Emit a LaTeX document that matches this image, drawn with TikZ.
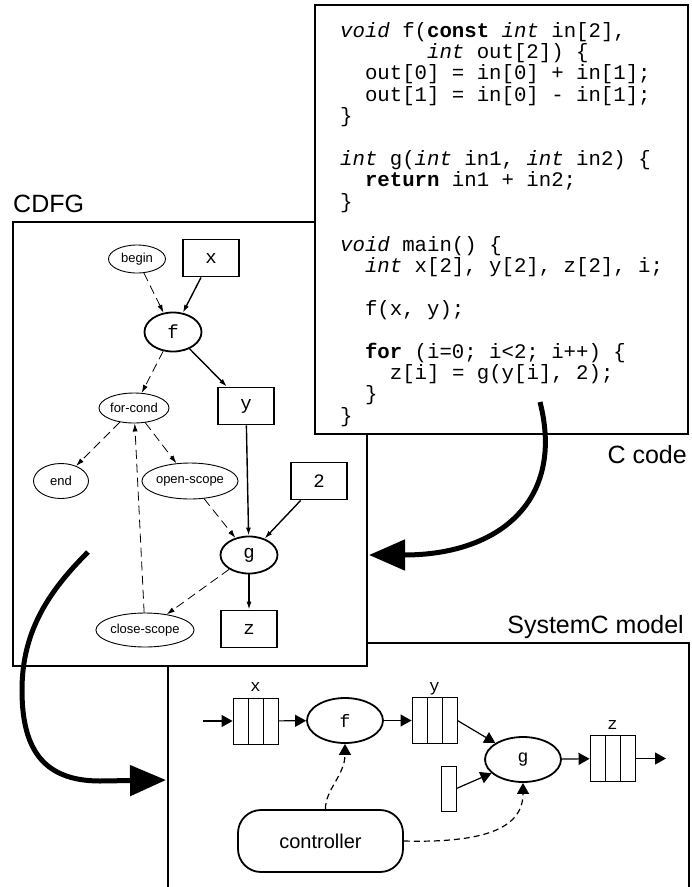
\documentclass[tikz,border=0pt]{standalone}
\usepackage{fontspec}
\setmainfont{Liberation Sans}
\newfontfamily\monofont{Liberation Mono}
\usetikzlibrary{arrows.meta,shapes.geometric}
\tikzset{
  bigbox/.style={draw, line width=2pt, fill=white},
  biglabel/.style={font=\fontsize{25}{25}\selectfont, inner sep=0pt},
  codeline/.style={anchor=base west, inner sep=0pt, font=\monofont\fontsize{20.7}{21.4}\selectfont},
  databox/.style={draw, line width=1.8pt, minimum width=56pt, minimum height=37pt, inner sep=0pt, font=\monofont\fontsize{19}{19}\selectfont},
  opnode/.style={draw, ellipse, line width=1.8pt, minimum width=57pt, minimum height=39pt, inner sep=0pt, font=\monofont\fontsize{19}{19}\selectfont},
  ctlnode/.style={draw, ellipse, line width=0.9pt, inner sep=0pt, font=\fontsize{13}{13}\selectfont},
  dataedge/.style={line width=1.4pt, -{Latex[length=8pt,width=5pt]}},
  ctledge/.style={line width=0.8pt, dash pattern=on 9pt off 5pt, -{Latex[length=8pt,width=5pt]}},
  queue/.style={draw, line width=0.9pt, minimum width=45pt, minimum height=46pt, inner sep=0pt,
    path picture={\foreach \k in {1,2} \draw[line width=0.9pt] ([xshift=\k*15pt]path picture bounding box.north west) -- ([xshift=\k*15pt]path picture bounding box.south west);}},
  qlabel/.style={anchor=base, inner sep=0pt, yshift=6pt, font=\monofont\fontsize{17}{17}\selectfont},
  sop/.style={draw, ellipse, line width=1.8pt, minimum width=76pt, minimum height=45pt, inner sep=0pt, font=\monofont\fontsize{18}{18}\selectfont},
  sarrow/.style={line width=1.2pt, -{Triangle[length=11pt,width=12pt]}},
  sctl/.style={line width=1.2pt, dash pattern=on 6pt off 4pt, -{Triangle[length=11pt,width=12pt]}},
  bigarrow/.style={line width=5pt, -{Triangle[length=36pt,width=30pt]}}
}
\begin{document}
\begin{tikzpicture}[x=1pt,y=-1pt]
\useasboundingbox (0,0) rectangle (692,887);

% ---------- SystemC model box (behind) ----------
\draw[line width=2pt] (168,895) -- (168,643) -- (689,643) -- (689,895);
\node[biglabel, anchor=base east] (lsc) at (684,633) {SystemC model};

% ---------- CDFG box ----------
\draw[bigbox] (13,222) rectangle (367,666);
\node[biglabel, anchor=base west] (lcdfg) at (13,212) {CDFG};

\node[ctlnode, minimum width=57pt, minimum height=28pt] (nbegin) at (137,259) {begin};
\node[databox] (nx) at (211,258) {x};
\node[opnode] (nf) at (173,332) {f};
\node[ctlnode, minimum width=70pt, minimum height=30pt] (nfor) at (134,408) {for-cond};
\node[databox] (ny) at (246,406) {y};
\node[ctlnode, minimum width=55pt, minimum height=35pt] (nend) at (61,481) {end};
\node[ctlnode, minimum width=87pt, minimum height=36pt] (nopen) at (190,481) {open-scope};
\node[databox] (ntwo) at (319,481) {2};
\node[opnode, minimum height=37pt] (ng) at (249,555) {g};
\node[ctlnode, minimum width=88pt, minimum height=34pt] (nclose) at (145,630) {close-scope};
\node[databox] (nz) at (249,629) {z};

\draw[ctledge] (nbegin) -- (nf);
\draw[dataedge] (nx) -- (nf);
\draw[ctledge] (nf) -- (nfor);
\draw[dataedge] (nf) -- (ny);
\draw[ctledge] (nfor) -- (nend);
\draw[ctledge] (nfor) -- (nopen);
\draw[ctledge] (nclose) -- (nfor);
\draw[ctledge] (nopen) -- (ng);
\draw[dataedge] (ny) -- (ng);
\draw[dataedge] (ntwo) -- (ng);
\draw[ctledge] (ng) -- (nclose);
\draw[dataedge] (ng) -- (nz);

% ---------- C code box ----------
\draw[bigbox] (315,5) rectangle (688,434);
\node[biglabel, anchor=base east] (lc) at (687,463) {C code};

\node[codeline] (c1) at (340,37) {\textit{void} f(\textbf{const} \textit{int} in[2],};
\node[codeline] (c2) at (426.9,58.4) {\textit{int} out[2]) \{};
\node[codeline] (c3) at (364.8,79.8) {out[0] = in[0] + in[1];};
\node[codeline] (c4) at (364.8,101.2) {out[1] = in[0] - in[1];};
\node[codeline] (c5) at (340,122.6) {\}};
\node[codeline] (c7) at (340,165.4) {\textit{int} g(\textit{int} in1, \textit{int} in2) \{};
\node[codeline] (c8) at (364.8,186.8) {\textbf{return} in1 + in2;};
\node[codeline] (c9) at (340,208.2) {\}};
\node[codeline] (c11) at (340,251) {\textit{void} main() \{};
\node[codeline] (c12) at (364.8,272.4) {\textit{int} x[2], y[2], z[2], i;};
\node[codeline] (c14) at (364.8,315.2) {f(x, y);};
\node[codeline] (c16) at (364.8,358) {\textbf{for} (i=0; i<2; i++) \{};
\node[codeline] (c17) at (389.7,379.4) {z[i] = g(y[i], 2);};
\node[codeline] (c18) at (364.8,400.8) {\}};
\node[codeline] (c19) at (340,422.2) {\}};

% ---------- SystemC contents ----------
\node[queue] (qx) at (255.5,721) {};
\node[queue] (qy) at (434.5,720.5) {};
\node[queue] (qz) at (612.5,758.5) {};
\node[qlabel] (lx) at (qx.north) {x};
\node[qlabel] (ly) at (qy.north) {y};
\node[qlabel] (lz) at (qz.north) {z};
\node[sop] (sf) at (345,720.5) {f};
\node[sop] (sg) at (523,759.5) {g};
\node[draw, line width=0.9pt, minimum width=15pt, minimum height=45pt, inner sep=0pt] (cst) at (448.5,788.5) {};
\node[draw, rounded corners=23pt, line width=1.8pt, minimum width=165pt, minimum height=62pt, font=\fontsize{20}{20}\selectfont] (ctrl) at (320.5,841) {controller};
\coordinate (sin) at (203,721);
\coordinate (sout) at (666,758.5);

\draw[sarrow] (sin) -- (qx);
\draw[sarrow] (qx) -- (sf);
\draw[sarrow] (sf) -- (qy);
\draw[sarrow] (qy.east) -- (sg);
\draw[sarrow] (cst.east) -- (sg);
\draw[sarrow] (sg) -- (qz);
\draw[sarrow] (qz) -- (sout);
\draw[sctl] ([xshift=5pt]ctrl.north) .. controls (325,790) and (345,775) .. (sf.south);
\draw[sctl] (ctrl.east) .. controls (480,843) and (523,830) .. (sg.south);

% ---------- big arrows ----------
\coordinate (a1s) at (540,402);
\coordinate (a1e) at (369,555);
\draw[bigarrow] (a1s) .. controls (565,500) and (500,555) .. (a1e);
\coordinate (a2s) at (88,552);
\coordinate (a2m) at (22,690);
\coordinate (a2e) at (166,780);
\draw[bigarrow] (a2s) .. controls (50,590) and (22,630) .. (a2m) .. controls (22,745) and (40,781) .. (100,781) -- (a2e);
\end{tikzpicture}
\end{document}
